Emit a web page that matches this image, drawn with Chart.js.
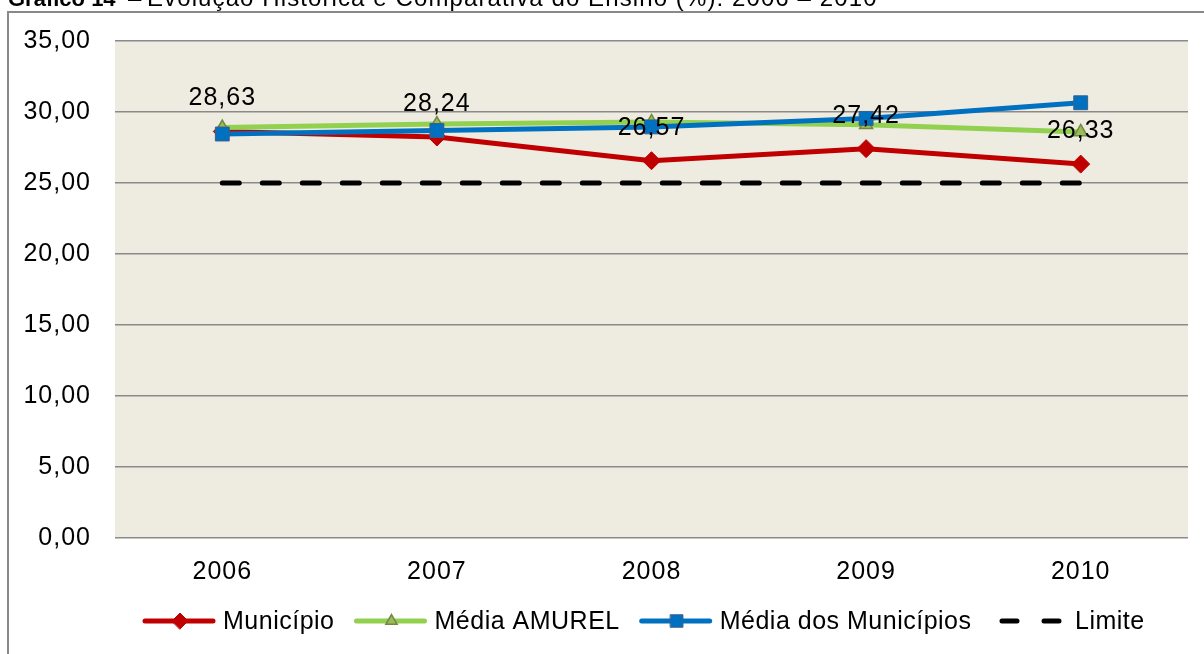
<!DOCTYPE html>
<html lang="pt">
<head>
<meta charset="utf-8">
<script src="https://cdn.jsdelivr.net/npm/chart.js@4.4.1/dist/chart.umd.min.js"></script>
<style>
  html, body { margin: 0; padding: 0; background: #fff; }
  #wrap { width: 1204px; height: 654px; }
</style>
</head>
<body>
<div id="wrap"><canvas id="grafico" width="1204" height="654"></canvas></div>
<script>
// dados
const anos = ['2006', '2007', '2008', '2009', '2010'];
const municipio = [28.63, 28.24, 26.57, 27.42, 26.33];
const mediaAmurel = [28.9, 29.15, 29.3, 29.1, 28.6];
const mediaMunicipios = [28.45, 28.7, 28.95, 29.55, 30.65];
const limite = [25, 25, 25, 25, 25];
const yMin = 0, yMax = 35, yStep = 5;

const FONTE = '"Liberation Sans", Arial, sans-serif';
const fmt = (v) => v.toFixed(2).replace('.', ',');

Chart.defaults.font.family = FONTE;
Chart.defaults.color = '#000';

// fundo, moldura e título (cortado no topo, como na imagem)
const moldura = {
  id: 'moldura',
  beforeDraw(chart) {
    const { ctx, chartArea: a } = chart;
    ctx.save();
    ctx.fillStyle = '#fff';
    ctx.fillRect(0, 0, chart.width, chart.height);
    ctx.fillStyle = '#EEECE1';
    ctx.fillRect(a.left, a.top, a.right - a.left, a.bottom - a.top);
    ctx.strokeStyle = '#898989';
    ctx.lineWidth = 2;
    ctx.beginPath();
    ctx.moveTo(8, chart.height);
    ctx.lineTo(8, 12);
    ctx.lineTo(chart.width, 12);
    ctx.stroke();
    ctx.fillStyle = '#000';
    ctx.textBaseline = 'alphabetic';
    ctx.font = 'bold 22px ' + FONTE;
    ctx.fillText('Gráfico 14', 8, 6);
    ctx.font = '24px ' + FONTE;
    ctx.fillText('–', 128, 6);
    ctx.letterSpacing = '1.1px';
    ctx.fillText('Evolução Histórica e Comparativa do Ensino (%): 2006 – 2010', 147, 6);
    ctx.restore();
    ctx.letterSpacing = '1px';
  }
};

// rótulos de valor da série Município
const rotulos = {
  id: 'rotulos',
  afterDatasetsDraw(chart) {
    const { ctx } = chart;
    const meta = chart.getDatasetMeta(0);
    ctx.save();
    ctx.font = '25px ' + FONTE;
    ctx.letterSpacing = '1px';
    ctx.fillStyle = '#000';
    ctx.textAlign = 'center';
    ctx.textBaseline = 'alphabetic';
    meta.data.forEach((p, i) => {
      ctx.fillText(fmt(municipio[i]), p.x, p.y - 26);
    });
    ctx.restore();
  }
};

// legenda no estilo do Excel: linha + marcador
const legenda = {
  id: 'legenda',
  afterDraw(chart) {
    const { ctx } = chart;
    const y = 621;
    let x = 143;
    ctx.save();
    ctx.font = '25px ' + FONTE;
    ctx.letterSpacing = '0.5px';
    ctx.textBaseline = 'middle';
    chart.data.datasets.forEach((ds) => {
      ctx.save();
      ctx.strokeStyle = ds.borderColor;
      ctx.lineWidth = ds.borderWidth;
      ctx.lineCap = 'round';
      if (ds.borderDash) {
        ctx.setLineDash([15, 27]);
        ctx.beginPath(); ctx.moveTo(1002, y); ctx.lineTo(1060, y); ctx.stroke();
        x = 1060;
      } else {
        ctx.beginPath(); ctx.moveTo(x + 2, y); ctx.lineTo(x + 70, y); ctx.stroke();
        ctx.fillStyle = ds.pointBackgroundColor;
        ctx.strokeStyle = ds.pointBorderColor;
        ctx.lineWidth = ds.pointBorderWidth;
        Chart.helpers.drawPoint(ctx, { pointStyle: ds.pointStyle, radius: ds.pointRadius - 1, rotation: 0, borderWidth: ds.pointBorderWidth }, x + 37, y);
        x += 72;
      }
      ctx.restore();
      x += ds.borderDash ? 15 : 8;
      ctx.fillStyle = '#000';
      ctx.fillText(ds.label, x, y + 1);
      x += ctx.measureText(ds.label).width + 20;
    });
    ctx.restore();
  }
};

new Chart(document.getElementById('grafico'), {
  type: 'line',
  data: {
    labels: anos,
    datasets: [
      { label: 'Município', data: municipio, order: 3,
        borderColor: '#C00000', borderWidth: 5, pointStyle: 'rectRot', pointRadius: 9,
        pointBackgroundColor: '#C00000', pointBorderColor: '#C00000', pointBorderWidth: 1 },
      { label: 'Média AMUREL', data: mediaAmurel, order: 2,
        borderColor: '#92D050', borderWidth: 5, pointStyle: 'triangle', pointRadius: 7.5,
        pointBackgroundColor: '#9BBB59', pointBorderColor: '#71893F', pointBorderWidth: 1.5 },
      { label: 'Média dos Municípios', data: mediaMunicipios, order: 1,
        borderColor: '#0070C0', borderWidth: 5, pointStyle: 'rect', pointRadius: 9.8,
        pointBackgroundColor: '#0070C0', pointBorderColor: '#3B5F8A', pointBorderWidth: 1 },
      { label: 'Limite', data: limite, order: 4,
        borderColor: '#000', borderWidth: 5, borderDash: [17, 23], borderCapStyle: 'round',
        pointRadius: 0 }
    ]
  },
  options: {
    responsive: false,
    devicePixelRatio: 1,
    animation: false,
    layout: { padding: { top: 41, right: 16, left: 0, bottom: 0 } },
    elements: { line: { tension: 0, borderJoinStyle: 'round' } },
    plugins: { legend: { display: false }, title: { display: false }, tooltip: { enabled: false } },
    scales: {
      x: {
        offset: true,
        grid: { display: false, drawTicks: false },
        border: { display: false },
        ticks: { font: { size: 25 }, padding: 19 },
        afterFit: (s) => { s.height = 116; }
      },
      y: {
        min: yMin, max: yMax,
        grid: { color: '#8A8A8A', lineWidth: 1.5, drawTicks: false },
        border: { display: false },
        ticks: { stepSize: yStep, font: { size: 25 }, padding: 24, callback: (v) => fmt(v) },
        afterFit: (s) => { s.width = 115; }
      }
    }
  },
  plugins: [moldura, rotulos, legenda]
});
</script>
</body>
</html>
